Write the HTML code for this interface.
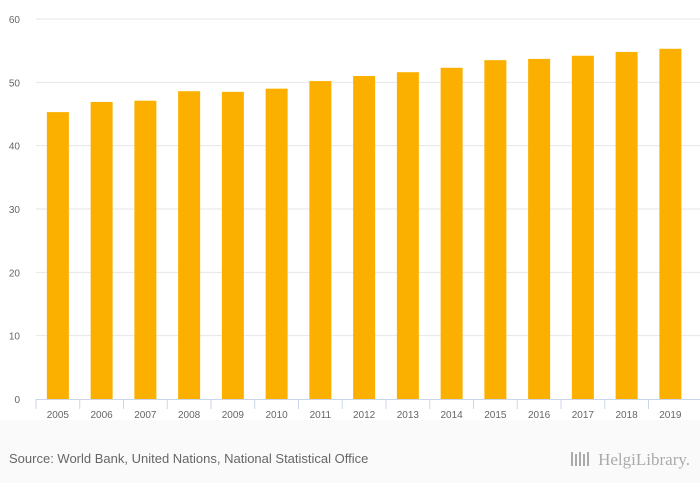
<!DOCTYPE html>
<html><head><meta charset="utf-8"><style>
body{margin:0;background:#fff;font-family:"Liberation Sans",sans-serif}
#wrap{position:relative;width:700px;height:483px;overflow:hidden}
#footer{position:absolute;left:0;top:420px;width:700px;height:63px;background:#fafafa}
</style></head><body>
<div id="wrap">
<div id="footer"></div>
<svg id="chart" width="700" height="483" style="position:absolute;left:0;top:0"></svg>
</div>
<script>
const categories=["2005","2006","2007","2008","2009","2010","2011","2012","2013","2014","2015","2016","2017","2018","2019"];
const values=[45.3,46.9,47.1,48.6,48.5,49.0,50.2,51.0,51.6,52.3,53.5,53.7,54.2,54.8,55.3];
const yTicks=[0,10,20,30,40,50,60];
const NS="http://www.w3.org/2000/svg";
const svg=document.getElementById('chart');
const x0=36,step=43.75,y0=399,yTop=19,yMax=60;
const y=v=>y0-(v/yMax)*(y0-yTop);
function mk(t,a,txt){const e=document.createElementNS(NS,t);for(const k in a)e.setAttribute(k,a[k]);if(txt!=null)e.textContent=txt;svg.appendChild(e);return e;}
yTicks.forEach(t=>{
 if(t>0){const g=mk('line',{x1:36,x2:700,y1:y(t),y2:y(t),stroke:'#e6e6e6','stroke-width':1});
 
 }
 const l=mk('text',{x:20,y:y(t)+4,'text-anchor':'end','font-size':10,fill:'#666'},t);
 
 
});
categories.forEach((c,i)=>{
 const cx=x0+step*(i+0.5);
 const b=mk('rect',{x:cx-11,y:y(values[i]),width:22,height:y0-y(values[i]),fill:'#fbb000'});
 
 
 const t=mk('line',{x1:x0+step*i,x2:x0+step*i,y1:399,y2:409,stroke:'#ccd6eb'});
 
 
 const l=mk('text',{x:cx,y:418,'text-anchor':'middle','font-size':10,fill:'#666'},c);
 
 
});
const ax=mk('line',{x1:36,x2:700,y1:399.5,y2:399.5,stroke:'#ccd6eb'});


const s=mk('text',{x:9,y:463,'font-size':13,fill:'#666'},'Source: World Bank, United Nations, National Statistical Office');


const lg=mk('text',{x:690,y:465,'text-anchor':'end','font-size':17,fill:'#aaa','font-family':'Liberation Serif, serif'},'HelgiLibrary.');


for(let i=0;i<5;i++){const r=mk('rect',{x:571+i*4,y:452+(i%2)*2,width:2,height:14-(i%2)*2,fill:'#aaa'});

}
</script>
</body></html>
